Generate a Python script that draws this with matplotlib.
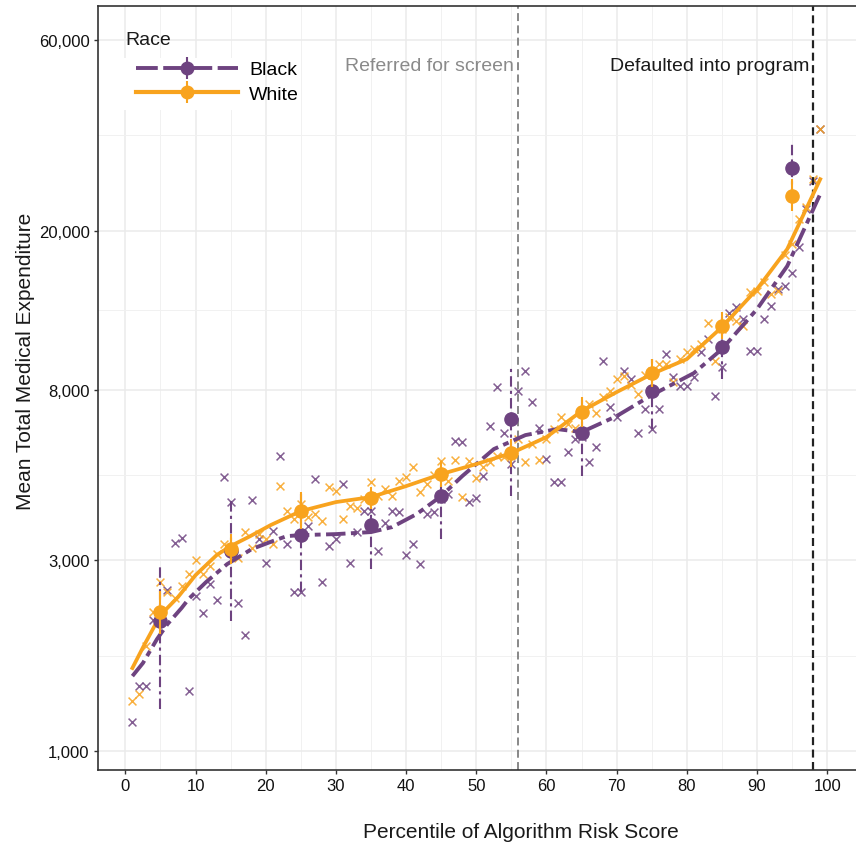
import numpy as np
import matplotlib
matplotlib.use("Agg")
import matplotlib.pyplot as plt
import matplotlib.transforms as mtransforms
from matplotlib.lines import Line2D
from matplotlib.patches import Rectangle
from matplotlib.ticker import FixedLocator, FuncFormatter, NullFormatter

plt.rcParams['font.family'] = ['Liberation Sans', 'DejaVu Sans']

# per-percentile means (x markers)
percentile = np.arange(1, 100)
black_pts = [1182, 1454, 1454, 2126, 2163, 2526, 3311, 3408, 1413, 2441,
             2213, 2615, 2385, 4842, 4193, 2344, 1950, 4241, 3388, 2951,
             3548, 5464, 3292, 2498, 2498, 3652, 4786, 2646, 3255, 3388,
             4651, 2951, 3528, 3981, 3981, 3162, 3715, 3981, 3958, 3090,
             3292, 2934, 3913, 3958, 4266, 4390, 5957, 5922, 4193, 4290,
             4870, 6494, 8128, 6237, 5218, 7943, 8913, 7456, 6420, 5370,
             4704, 4704, 5591, 6026, 6095, 5278, 5754, 9441, 7244, 6839,
             8913, 8511, 6237, 7161, 6383, 7161, 9829, 8610, 8175, 8175,
             8610, 9943, 10715, 7718, 9120, 12445, 12882, 12023, 10000, 10000,
             12023, 12957, 14289, 14538, 15668, 18197, 22646, 26607, 35892]
white_pts = [1334, 1388, 1830, 2226, 2646, 2498, 2413, 2585, 2770, 3003,
             2770, 2901, 3109, 3292, 3181, 3037, 3528, 3217, 3487, 3388,
             3292, 4597, 3981, 3802, 4145, 3846, 3913, 3758, 4571, 4467,
             3802, 4097, 4050, 4266, 4704, 4340, 4519, 4340, 4732, 4842,
             5129, 4441, 4651, 4898, 5309, 4732, 5339, 4315, 5309, 4814,
             5129, 5278, 5464, 5433, 5559, 6026, 5278, 5855, 5339, 6026,
             6383, 6839, 6569, 6420, 7080, 7371, 6998, 7674, 7943, 8511,
             8660, 8222, 7807, 8710, 8913, 9279, 9279, 8366, 9550, 9943,
             10116, 10411, 11749, 9441, 11350, 12162, 11885, 11548, 14044, 14125,
             14877, 13883, 14125, 17378, 18514, 21380, 22909, 26915, 35892]

# decile means with intervals
decile = [5, 15, 25, 35, 45, 55, 65, 75, 85, 95]
black_mean = [2113, 3162, 3467, 3673, 4340, 6761, 6237, 7943, 10233, 28674]
black_lo = [1274, 2113, 2498, 2851, 3388, 4340, 4870, 6383, 8511, 23988]
black_hi = [2934, 4266, 4390, 4519, 5070, 9173, 7586, 9550, 12162, 33497]
white_mean = [2226, 3199, 3981, 4290, 4926, 5559, 7039, 8810, 11548, 24406]
white_lo = [1961, 2934, 3589, 4027, 4571, 5129, 6457, 8128, 10715, 22387]
white_hi = [2512, 3487, 4441, 4571, 5309, 6026, 7674, 9550, 12517, 26915]

# smoothed fits
black_fit_x = [1, 2.5, 4.5, 6, 8, 9, 11.5, 14.5, 18, 21, 23, 25, 30, 35, 38, 41.5,
               45, 48, 52.5, 57, 61.5, 65, 70, 75, 81, 85, 90, 94.3, 99]
black_fit_y = [1540, 1660, 1905, 2077, 2278, 2399, 2646, 2934, 3199, 3350, 3447,
               3467, 3487, 3528, 3631, 3913, 4340, 4870, 5689, 6166, 6383, 6273,
               6879, 7762, 8810, 10116, 12735, 16311, 24689]
white_fit_x = [1, 2.6, 5, 7.5, 10, 13, 15, 17.8, 20.7, 25, 30, 35, 40, 45, 50, 55,
               60, 65, 70, 75, 80, 85, 90, 94.3, 99]
white_fit_y = [1613, 1830, 2188, 2427, 2754, 3090, 3255, 3447, 3673, 3981, 4193,
               4315, 4597, 4926, 5218, 5559, 6095, 7080, 7898, 8760, 9550, 11482,
               14289, 17989, 26900]

screen_cut = 56
default_cut = 98
yticks = [1000, 3000, 8000, 20000, 60000]

purple = '#6E4380'
orange = '#F8A31E'
ls_black = (0, (5.0, 1.4, 1.5, 1.4))

fig = plt.figure(figsize=(8.56, 8.45), dpi=100)
ax = fig.add_axes([0.1145, 0.0876, 0.8855, 0.904])
ax.set_axisbelow(True)

ax.scatter(percentile, black_pts, marker='x', s=32, color=purple, linewidths=1.1, alpha=0.85, zorder=2)
ax.scatter(percentile, white_pts, marker='x', s=32, color=orange, linewidths=1.1, alpha=0.85, zorder=2.1)

ax.plot(black_fit_x, black_fit_y, color=purple, lw=2.8, ls=ls_black, zorder=3)
ax.plot(white_fit_x, white_fit_y, color=orange, lw=2.7, zorder=3.1)

bm = np.array(black_mean)
eb = ax.errorbar(decile, bm, yerr=[bm - np.array(black_lo), np.array(black_hi) - bm],
                 fmt='o', color=purple, ms=9.5, elinewidth=1.5, capsize=0, zorder=4)
eb[2][0].set_linestyle((0, (5, 2, 1.5, 2)))
wm = np.array(white_mean)
ax.errorbar(decile, wm, yerr=[wm - np.array(white_lo), np.array(white_hi) - wm],
            fmt='o', color=orange, ms=9.5, elinewidth=1.5, capsize=0, zorder=4.1)

ax.axvline(screen_cut, color='#7f7f7f', lw=1.3, ls=(0, (4.4, 2.4)), zorder=2.5)
ax.axvline(default_cut, color='#222222', lw=1.6, ls=(0, (3.6, 2.0)), zorder=2.5)

trans = mtransforms.blended_transform_factory(ax.transData, ax.transAxes)
ax.text(55.3, 0.9228, 'Referred for screen', transform=trans, ha='right', va='center',
        fontsize=14, color='#8a8a8a')
ax.text(97.45, 0.9228, 'Defaulted into program', transform=trans, ha='right', va='center',
        fontsize=14, color='#1a1a1a')

ax.set_yscale('log')
ax.set_ylim(897, 72860)
ax.yaxis.set_major_locator(FixedLocator(yticks))
ax.yaxis.set_major_formatter(FuncFormatter(lambda v, _: f'{v:,.0f}'))
ax.yaxis.set_minor_locator(FixedLocator(np.sqrt(np.array(yticks[:-1]) * np.array(yticks[1:]))))
ax.yaxis.set_minor_formatter(NullFormatter())
ax.set_xlim(-3.9, 104.1)
ax.set_xticks(range(0, 101, 10))
ax.set_xticks(range(5, 100, 10), minor=True)

ax.grid(which='major', color='#EBEBEB', lw=1.1)
ax.grid(which='minor', color='#F1F1F1', lw=0.7)
ax.tick_params(which='major', length=3, width=1, color='#333333', labelsize=12,
               labelcolor='#111111', pad=3)
ax.tick_params(which='minor', length=0)
for side in ['left', 'bottom', 'top']:
    ax.spines[side].set_color('#333333')
    ax.spines[side].set_linewidth(1.2)
ax.spines['right'].set_visible(False)

ax.set_ylabel('Mean Total Medical Expenditure', fontsize=15, color='#1a1a1a', va='center')
ax.yaxis.set_label_coords(-0.0963, 0.5366)
ax.set_xlabel('Percentile of Algorithm Risk Score', fontsize=15, color='#1a1a1a', va='center')
ax.xaxis.set_label_coords(0.558, -0.081)

# legend: keys on white background, title drawn separately
ax.add_patch(Rectangle((0.026, 0.864), 0.16, 0.068, transform=ax.transAxes,
                       facecolor='white', edgecolor='none', zorder=0.9))
ax.text(0.0356, 0.9568, 'Race', transform=ax.transAxes, ha='left', va='center',
        fontsize=14, color='#1a1a1a')
h_black = (Line2D([], [], color=purple, lw=2.8, ls=(0, (5.6, 1.4))),
           Line2D([], [], color=purple, marker='o', ms=9, ls='none'),
           Line2D([], [], color=purple, marker='|', ms=16, mew=1.5, ls='none'))
h_white = (Line2D([], [], color=orange, lw=3.0),
           Line2D([], [], color=orange, marker='o', ms=9, ls='none'),
           Line2D([], [], color=orange, marker='|', ms=16, mew=1.5, ls='none'))
ax.legend([h_black, h_white], ['Black', 'White'], loc='upper left',
          bbox_to_anchor=(0.0396, 0.9385), borderaxespad=0, frameon=False,
          fontsize=14, handlelength=5.25, handletextpad=0.57, labelspacing=0.35)

fig.savefig('out.png', dpi=100)
